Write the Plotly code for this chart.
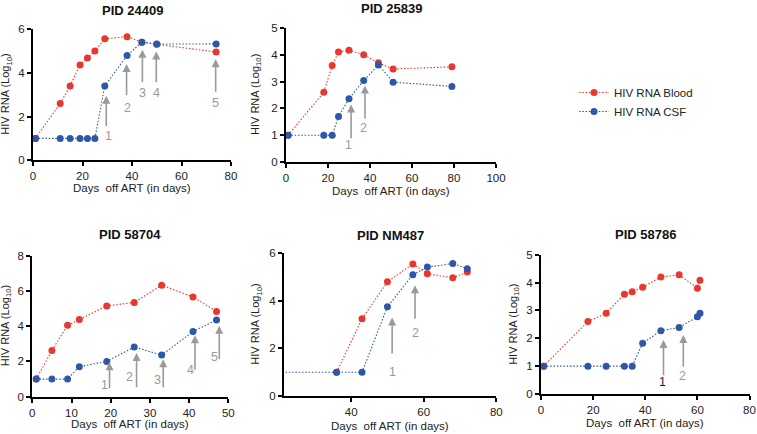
import plotly.graph_objects as go

# ---------------- data ----------------
p1_blood_x = [1, 11, 15, 19, 22, 25, 29, 38, 44, 50, 74]
p1_blood_y = [1.0, 2.6, 3.4, 4.36, 4.68, 5.0, 5.55, 5.65, 5.4, 5.3, 4.95]
p1_csf_x = [1, 11, 15, 19, 22, 25, 29, 38, 44, 50, 74]
p1_csf_y = [1.0, 1.0, 1.0, 1.0, 1.0, 1.0, 3.4, 4.79, 5.4, 5.31, 5.32]

p2_blood_x = [1, 18, 22, 25, 30, 37, 44, 51, 79]
p2_blood_y = [1.0, 2.6, 3.6, 4.1, 4.17, 4.0, 3.7, 3.47, 3.55]
p2_csf_x = [1, 18, 22, 25, 30, 37, 44, 51, 79]
p2_csf_y = [1.0, 1.0, 1.0, 1.7, 2.36, 3.04, 3.62, 2.98, 2.82]

p3_blood_x = [1, 5, 9, 12, 19, 26, 33, 41, 47]
p3_blood_y = [1.0, 2.62, 4.05, 4.38, 5.15, 5.35, 6.32, 5.66, 4.84]
p3_csf_x = [1, 5, 9, 12, 19, 26, 33, 41, 47]
p3_csf_y = [1.0, 1.0, 1.0, 1.7, 2.0, 2.82, 2.36, 3.7, 4.35]

p4_blood_x = [36, 43, 50, 57, 61, 68, 72]
p4_blood_y = [1.0, 3.25, 4.8, 5.55, 5.14, 4.97, 5.21]
p4_csf_x = [1, 36, 43, 50, 57, 61, 68, 72]
p4_csf_y = [1.0, 1.0, 1.0, 3.75, 5.1, 5.42, 5.57, 5.35]

p5_blood_x = [1, 18, 25, 32, 35, 39, 46, 53, 60, 61]
p5_blood_y = [1.0, 2.6, 2.9, 3.58, 3.67, 3.83, 4.2, 4.28, 3.8, 4.08]
p5_csf_x = [1, 18, 25, 32, 35, 39, 46, 53, 60, 61]
p5_csf_y = [1.0, 1.0, 1.0, 1.0, 1.0, 1.82, 2.27, 2.39, 2.77, 2.9]

titles = ["PID 24409", "PID 25839", "PID 58704", "PID NM487", "PID 58786"]
series_names = ["HIV RNA Blood", "HIV RNA CSF"]
x_title = "Days  off ART (in days)"
y_title = "HIV RNA (Log<sub>10</sub>)"

# ---------------- style ----------------
RED = "#E8372E"
BLUE = "#2D58A8"
ARROW = "#9a9a9a"
TXT = "#222222"
FONT = "Liberation Sans, Arial, sans-serif"
W, H = 757, 434
DOT = "1.5px,1.8px"

# pixel layout: plot box (px, py), title centre y, x-title centre y, y-title centre x
panels = [
    dict(bx=p1_blood_x, by=p1_blood_y, cx=p1_csf_x, cy=p1_csf_y,
         px=(33, 231), py=(29, 160.3), xr=[0, 80], xt=[0, 20, 40, 60, 80], yr=[0, 6], yt=[0, 2, 4, 6],
         ty=10, xty=188, ytx=6),
    dict(bx=p2_blood_x, by=p2_blood_y, cx=p2_csf_x, cy=p2_csf_y,
         px=(286, 496), py=(28, 162), xr=[0, 100], xt=[0, 20, 40, 60, 80, 100], yr=[0, 5], yt=[0, 1, 2, 3, 4, 5],
         ty=8, xty=191, ytx=256),
    dict(bx=p3_blood_x, by=p3_blood_y, cx=p3_csf_x, cy=p3_csf_y,
         px=(32.3, 228.3), py=(255.7, 396.7), xr=[0, 50], xt=[0, 10, 20, 30, 40, 50], yr=[0, 8], yt=[0, 2, 4, 6, 8],
         ty=234, xty=424, ytx=6),
    dict(bx=p4_blood_x, by=p4_blood_y, cx=p4_csf_x, cy=p4_csf_y,
         px=(284, 496.3), py=(253.3, 396), xr=[21.5, 80], xt=[40, 60, 80], yr=[0, 6], yt=[0, 2, 4, 6],
         ty=235.5, xty=425.5, ytx=256),
    dict(bx=p5_blood_x, by=p5_blood_y, cx=p5_csf_x, cy=p5_csf_y,
         px=(541, 749.5), py=(254.7, 394), xr=[0, 80], xt=[0, 20, 40, 60, 80], yr=[0, 5], yt=[0, 1, 2, 3, 4, 5],
         ty=234.5, xty=423, ytx=514.5),
]

# arrows: (tip_x, tip_y, tail_y, label, label_x, label_y, label_color)
arrows = [
    [(29.6, 2.95, 1.5, "1", 30.4, 1.12, ARROW), (37.8, 4.4, 2.9, "2", 38.2, 2.37, ARROW),
     (44.2, 5.05, 3.5, "3", 44.2, 3.06, ARROW), (49.8, 4.97, 3.5, "4", 49.8, 3.08, ARROW),
     (73.8, 4.62, 3.06, "5", 73.6, 2.62, ARROW)],
    [(31.0, 2.15, 0.83, "1", 29.8, 0.62, ARROW), (37.6, 2.85, 1.57, "2", 36.8, 1.26, ARROW)],
    [(19.7, 1.95, 0.4, "1", 18.4, 0.66, ARROW), (26.6, 2.48, 0.45, "2", 24.7, 1.14, ARROW),
     (33.4, 2.12, 0.45, "3", 31.9, 0.95, ARROW), (41.5, 3.48, 1.45, "4", 40.3, 1.52, ARROW),
     (47.7, 4.03, 2.05, "5", 46.4, 2.27, ARROW)],
    [(51.3, 3.3, 1.72, "1", 51.5, 1.02, ARROW), (57.6, 4.66, 3.19, "2", 57.7, 2.63, ARROW)],
    [(47.0, 1.94, 0.62, "1", 46.8, 0.42, TXT), (54.6, 2.12, 0.92, "2", 54.4, 0.66, ARROW)],
]

fig = go.Figure()
layout = dict(
    width=W, height=H, margin=dict(l=0, r=0, t=0, b=0, autoexpand=False),
    paper_bgcolor="white", plot_bgcolor="white",
    font=dict(family=FONT, color=TXT, size=11),
    showlegend=True,
    legend=dict(x=(616 - 42) / W, y=1 - 78 / H, xanchor="left", yanchor="top",
                font=dict(size=11.5, color=TXT), bgcolor="rgba(0,0,0,0)",
                tracegroupgap=0, itemwidth=30),
)
annotations = []

for i, p in enumerate(panels):
    n = i + 1
    xa = "x" if n == 1 else f"x{n}"
    ya = "y" if n == 1 else f"y{n}"
    clip = (n == 4)
    fig.add_trace(go.Scatter(
        x=p["bx"], y=p["by"], xaxis=xa, yaxis=ya, mode="lines+markers",
        name=series_names[0], showlegend=(n == 1), legendgroup="blood",
        line=dict(color=RED, width=1.1, dash=DOT),
        marker=dict(color=RED, size=7), cliponaxis=clip))
    fig.add_trace(go.Scatter(
        x=p["cx"], y=p["cy"], xaxis=xa, yaxis=ya, mode="lines+markers",
        name=series_names[1], showlegend=(n == 1), legendgroup="csf",
        line=dict(color=BLUE, width=1.1, dash=DOT),
        marker=dict(color=BLUE, size=7), cliponaxis=clip))

    axcommon = dict(showline=True, linecolor="black", linewidth=2, ticks="outside",
                    ticklen=4, tickwidth=2, tickcolor="black", showgrid=False,
                    zeroline=False, automargin=False,
                    tickfont=dict(size=11.5, color=TXT, family=FONT))
    xkey = "xaxis" if n == 1 else f"xaxis{n}"
    ykey = "yaxis" if n == 1 else f"yaxis{n}"
    layout[xkey] = dict(axcommon, domain=[p["px"][0] / W, p["px"][1] / W], range=p["xr"],
                        tickvals=p["xt"], anchor=ya)
    layout[ykey] = dict(axcommon, domain=[1 - p["py"][1] / H, 1 - p["py"][0] / H], range=p["yr"],
                        tickvals=p["yt"], anchor=xa)
    xc = (p["px"][0] + p["px"][1]) / 2 / W
    yc = 1 - (p["py"][0] + p["py"][1]) / 2 / H
    # panel title
    annotations.append(dict(text=f"<b>{titles[i]}</b>", xref="paper", yref="paper",
                            x=xc, y=1 - p["ty"] / H, xanchor="center", yanchor="middle",
                            showarrow=False, font=dict(size=13, color="#111111")))
    # axis titles
    annotations.append(dict(text=x_title, xref="paper", yref="paper", x=xc, y=1 - p["xty"] / H,
                            xanchor="center", yanchor="middle", showarrow=False,
                            font=dict(size=11.5, color=TXT)))
    annotations.append(dict(text=y_title, xref="paper", yref="paper", x=p["ytx"] / W, y=yc,
                            xanchor="center", yanchor="middle", showarrow=False, textangle=-90,
                            font=dict(size=11, color=TXT)))
    for (tx, ty, tail, lab, lx, ly, lc) in arrows[i]:
        annotations.append(dict(x=tx, y=ty, ax=tx, ay=tail, xref=xa, yref=ya, axref=xa, ayref=ya,
                                text="", showarrow=True, arrowhead=2, arrowsize=1.0,
                                arrowwidth=1.6, arrowcolor=ARROW))
        annotations.append(dict(x=lx, y=ly, xref=xa, yref=ya, text=lab, showarrow=False,
                                font=dict(size=12.5, color=lc), xanchor="center", yanchor="middle"))

layout["annotations"] = annotations
fig.update_layout(**layout)
fig.write_html("out.html", config={"displayModeBar": False},
               post_script="document.body.style.margin='0px';")
